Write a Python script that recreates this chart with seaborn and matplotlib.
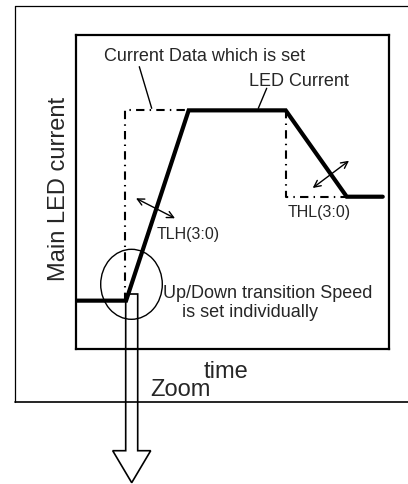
import pandas as pd
import numpy as np
import matplotlib
matplotlib.use("Agg")
import matplotlib.pyplot as plt
from matplotlib.patches import Ellipse, Polygon
import seaborn as sns

# ==============================
# Data (arbitrary units, 0..100 on both axes)
# ==============================
led_time = [0, 16, 36, 67, 86.5, 98]
led_current = [15.4, 15.4, 76, 76, 48.5, 48.5]

set_time = [15.8, 15.8, 36, 67, 67, 86.5]
set_current = [15.4, 76, 76, 76, 48.5, 48.5]
set_segment = [0, 0, 0, 1, 1, 1]

led_df = pd.DataFrame({"time": led_time, "current": led_current})
set_df = pd.DataFrame({"time": set_time, "current": set_current, "seg": set_segment})

# ==============================
# Style
# ==============================
sns.set_theme(style="white")
plt.rcParams["font.family"] = ["Liberation Sans", "DejaVu Sans"]

W, H = 408, 484
fig = plt.figure(figsize=(W / 100, H / 100), dpi=100)
fig.patch.set_facecolor("white")

# inner plot box (pixels: left 76, right 389, top 35, bottom 349)
ax = fig.add_axes([76 / W, 1 - 349 / H, 313 / W, 314 / H])
sns.lineplot(data=set_df, x="time", y="current", units="seg", estimator=None,
             sort=False, color="black", lw=1.5, linestyle=(0, (4, 2.5, 0.7, 2.5)), ax=ax)
sns.lineplot(data=led_df, x="time", y="current", sort=False, color="black",
             lw=3, ax=ax, solid_joinstyle="miter")
ax.set_xlim(0, 100)
ax.set_ylim(0, 100)
ax.set_xticks([])
ax.set_yticks([])
ax.set_xlabel("")
ax.set_ylabel("")
for s in ax.spines.values():
    s.set_visible(True)
    s.set_color("black")
    s.set_linewidth(1.6)

# ==============================
# Overlay in pixel coordinates for annotations
# ==============================
ov = fig.add_axes([0, 0, 1, 1])
ov.set_xlim(0, W)
ov.set_ylim(H, 0)
ov.axis("off")
ov.patch.set_alpha(0)

# outer frame
ov.plot([15, 15], [6, 401.5], color="black", lw=0.9)
ov.plot([15, W], [6, 6], color="black", lw=0.9)
ov.plot([15, W], [401.5, 401.5], color="black", lw=1.2)

# axis labels
ov.text(65, 188.5, "Main LED current", rotation=90, rotation_mode="anchor",
        ha="center", va="baseline", fontsize=17)
ov.text(226, 378, "time", ha="center", va="baseline", fontsize=17)
ov.text(180.5, 396.5, "Zoom", ha="center", va="baseline", fontsize=17)

# labels with leader lines
ov.text(205, 61, "Current Data which is set", ha="center", va="baseline", fontsize=13)
ov.plot([139.3, 151.7], [66.7, 108.3], color="black", lw=1)
ov.text(299, 86, "LED Current", ha="center", va="baseline", fontsize=13)
ov.plot([266.7, 258.3], [88.3, 108.3], color="black", lw=1)

# transition speed arrows
arrow = dict(arrowstyle="<->", color="black", lw=1, mutation_scale=12,
             shrinkA=0, shrinkB=0)
ov.annotate("", xy=(136, 198.3), xytext=(175, 218.3), arrowprops=arrow)
ov.annotate("", xy=(312.7, 188), xytext=(349, 160.7), arrowprops=arrow)
ov.text(157, 239, "TLH(3:0)", ha="left", va="baseline", fontsize=11.5)
ov.text(288, 216.5, "THL(3:0)", ha="left", va="baseline", fontsize=11.5)

# zoom circle and note
ov.add_patch(Ellipse((131.5, 284.3), 61.6, 70, fill=False, ec="black", lw=1))
ov.text(163, 298.3, "Up/Down transition Speed", ha="left", va="baseline", fontsize=13)
ov.text(182, 317, "is set individually", ha="left", va="baseline", fontsize=13)

# hollow zoom arrow
ov.add_patch(Polygon([(125.7, 300.5), (125.7, 294), (137.7, 294), (137.7, 450.7),
                      (150.7, 450.7), (131.7, 482.7), (112.7, 450.7), (125.7, 450.7)],
                     closed=True, fill=False, ec="black", lw=1.2, joinstyle="miter"))

fig.savefig("out.png", dpi=100)
